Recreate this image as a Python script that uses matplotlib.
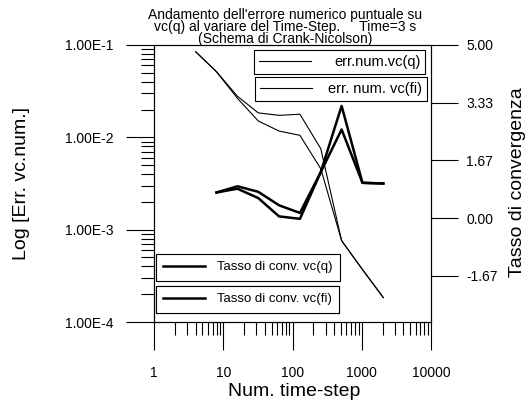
import numpy as np
import matplotlib.pyplot as plt
from matplotlib.ticker import NullFormatter, LogLocator

# dati
steps = [4, 8, 16, 32, 64, 128, 256, 512, 1024, 2048]
err_q = [0.0845, 0.0513, 0.0279, 0.0184, 0.0173, 0.0178, 0.00754, 7.6e-4, 3.7e-4, 1.84e-4]
err_fi = [0.0845, 0.0513, 0.0265, 0.01504, 0.0117, 0.01051, 0.00457, 7.6e-4, 3.7e-4, 1.84e-4]
rate_steps = [8, 16, 32, 64, 128, 256, 512, 1024, 2048]
rate_q = [0.74, 0.85, 0.58, 0.05, -0.02, 1.33, 3.24, 1.02, 1.00]
rate_fi = [0.74, 0.92, 0.76, 0.37, 0.15, 1.33, 2.56, 1.02, 1.00]

xticks = [1, 10, 100, 1000, 10000]
xticklabels = ['1', '10', '100', '1000', '10000']
yticks = [1e-1, 1e-2, 1e-3, 1e-4]
yticklabels = ['1.00E-1', '1.00E-2', '1.00E-3', '1.00E-4']
rticks = [5.0, 3.33, 1.67, 0.0, -1.67]
rticklabels = ['5.00', '3.33', '1.67', '0.00', '-1.67']

W, H = 528, 407
fx = lambda x: x / W
fy = lambda y: 1 - y / H

plt.rcParams['font.family'] = ['Liberation Sans', 'DejaVu Sans']

fig = plt.figure(figsize=(W / 100, H / 100), dpi=100)
ax = fig.add_axes([fx(154), fy(322), (431 - 154) / W, (322 - 45) / H])

l_q, = ax.plot(steps, err_q, color='black', lw=0.8)
l_fi, = ax.plot(steps, err_fi, color='black', lw=0.8)
ax.set_xscale('log')
ax.set_yscale('log')
ax.set_xlim(1, 10000)
ax.set_ylim(1e-4, 1e-1)
ax.set_xticks(xticks)
ax.set_xticklabels(xticklabels)
ax.set_yticks(yticks)
ax.set_yticklabels(yticklabels)
ax.xaxis.set_minor_locator(LogLocator(base=10, subs=np.arange(2, 10)))
ax.yaxis.set_minor_locator(LogLocator(base=10, subs=np.arange(2, 10)))
ax.xaxis.set_minor_formatter(NullFormatter())
ax.yaxis.set_minor_formatter(NullFormatter())
ax.tick_params(axis='both', which='major', direction='out', length=20, width=0.8, labelsize=10)
ax.tick_params(axis='both', which='minor', direction='out', length=9.5, width=0.8)
ax.tick_params(axis='x', which='major', pad=12)
ax.tick_params(axis='y', which='major', pad=9)

ax2 = ax.twinx()
r_q, = ax2.plot(rate_steps, rate_q, color='black', lw=1.8)
r_fi, = ax2.plot(rate_steps, rate_fi, color='black', lw=1.8)
ax2.set_ylim(-3, 5)
ax2.set_yticks(rticks)
ax2.set_yticklabels(rticklabels)
ax2.tick_params(axis='y', direction='out', length=19.5, width=0.8, labelsize=10, pad=6)

for a in (ax, ax2):
    for s in a.spines.values():
        s.set_linewidth(0.8)

# legende (un riquadro per ogni serie)
def box(handle, label, x, y, size, hl, htp, bp):
    leg = ax2.legend(handles=[handle], labels=[label], loc='upper left',
                     bbox_to_anchor=(fx(x), fy(y)), bbox_transform=fig.transFigure,
                     prop={'size': size}, handlelength=hl, handletextpad=htp, borderpad=bp,
                     fancybox=False, framealpha=1, edgecolor='black', borderaxespad=0)
    leg.get_frame().set_linewidth(0.8)
    ax2.add_artist(leg)

box(l_q, 'err.num.vc(q)', 254, 50, 10.5, 3.6, 1.55, 0.33)
box(l_fi, 'err. num. vc(fi)', 255, 77, 10.5, 3.6, 1.1, 0.33)
box(r_q, 'Tasso di conv. vc(q)', 156, 254, 9.5, 3.2, 0.9, 0.55)
box(r_fi, 'Tasso di conv. vc(fi)', 156, 286, 9.5, 3.2, 0.9, 0.55)

titolo = ("Andamento dell'errore numerico puntuale su\n"
          "vc(q) al variare del Time-Step.     Time=3 s\n"
          "(Schema di Crank-Nicolson)")
fig.text(fx(285), fy(7.5), titolo, ha='center', va='top', multialignment='center',
         fontsize=10, linespacing=0.82)

fig.text(fx(22), fy(183), 'Log [Err. vc.num.]', rotation=90, ha='center', va='center', fontsize=14)
fig.text(fx(518), fy(182), 'Tasso di convergenza', rotation=90, ha='center', va='center', fontsize=14)
fig.text(fx(294), fy(392), 'Num. time-step', ha='center', va='center', fontsize=14)

fig.savefig('out.png', dpi=100, facecolor='white')
